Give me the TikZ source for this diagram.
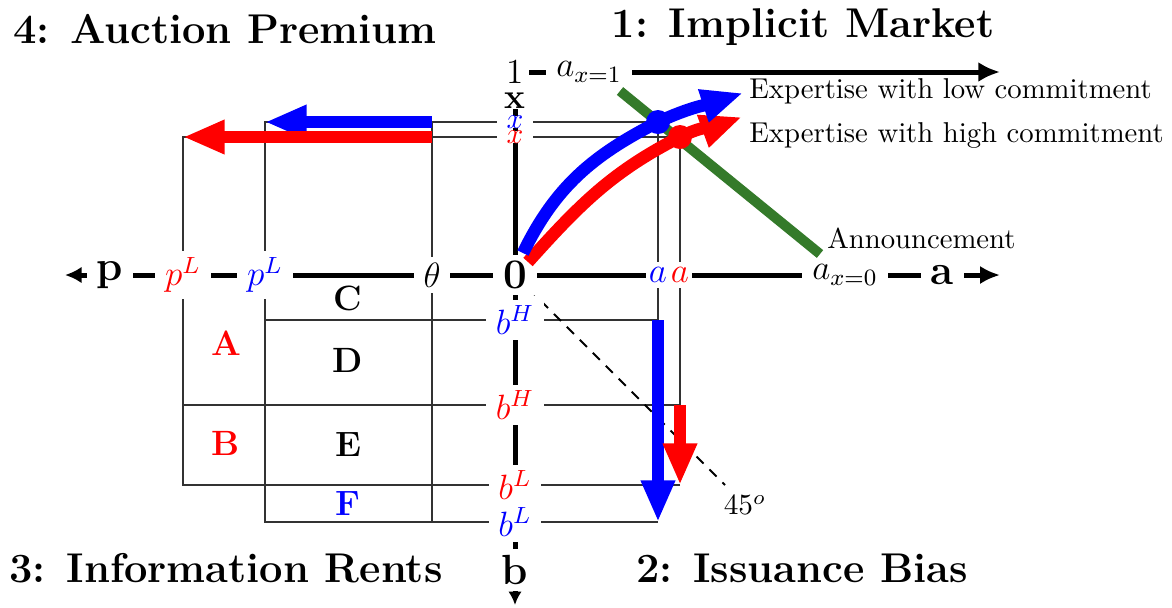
\documentclass[tikz,border=0pt]{standalone}
\definecolor{imRed}{RGB}{255, 0, 0}
\definecolor{imBlue}{RGB}{0, 0, 255}
\definecolor{imGreen}{RGB}{52, 122, 42}
\definecolor{imGray}{RGB}{50, 50, 50}
\usepackage{tikz}
\usetikzlibrary{arrows.meta, calc}
\usepackage{amsmath}
\tikzset{
  axisline/.style={line width=0.6mm, black},
  axislabel/.style={fill=white, inner xsep=3.4pt, inner ysep=2pt, text=#1, font=\fontsize{11.5}{13}\selectfont},
  axislabel/.default=black,
  axisname/.style={fill=white, inner xsep=3.4pt, inner ysep=2pt, font=\Large\bfseries},
  guide/.style={line width=0.2mm, imGray},
  bigarrow/.style={-{Triangle[length=5mm, width=3.8mm]}, line width=1.5mm, #1},
  bigarrow/.default=imBlue,
  quadtitle/.style={font=\fontsize{14.2}{16}\selectfont\bfseries},
  area/.style={font=\large\bfseries, text=#1},
  area/.default=black,
  note/.style={anchor=west, font=\fontsize{9.8}{12}\selectfont},
}

\begin{document}
\begin{tikzpicture}[x=1.2mm, y=1.2mm]
  \useasboundingbox (-51.5,-33.2) rectangle (65.7,27.5);

  % points of the two regimes
  \coordinate (O) at (0,0);
  \coordinate (bdot) at (14.3,15.3);
  \coordinate (rdot) at (16.5,13.8);
  \coordinate (pb) at (-25,0);
  \coordinate (pr) at (-33.2,0);
  \coordinate (th) at (-8.3,0);
  \coordinate (bHb) at (0,-4.5);
  \coordinate (bHr) at (0,-13);
  \coordinate (bLr) at (0,-21);
  \coordinate (bLb) at (0,-24.7);

  % guide lines
  \draw[guide] (bdot|-bLb) -- (pb|-bLb) -- (pb|-bdot) -- (bdot) -- (bdot|-bHb) -- (pb|-bHb);
  \draw[guide] (rdot|-bLr) -- (pr|-bLr) -- (pr|-rdot) -- (rdot) -- (rdot|-bHr) -- (pr|-bHr);
  \draw[guide] (th|-bdot) -- (th|-bLb);
  \draw[dashed, line width=0.22mm, dash pattern=on 1.2mm off 1mm] (O) -- (21,-21);

  % axes
  \coordinate (pend) at (-45,0);
  \coordinate (aend) at (48.5,0);
  \coordinate (xend) at (0,17.5);
  \coordinate (bend) at (0,-33);
  \coordinate (one) at (0,20.3);
  \coordinate (oneend) at (48.5,20.3);
  \draw[axisline, {Latex[length=2mm, width=2mm]}-{Latex[length=2.4mm, width=2.2mm]}] (pend) -- (aend);
  \draw[axisline, -{Latex[length=1.6mm, width=1.6mm]}] (xend) -- (bend);
  \draw[axisline, -{Latex[length=2.6mm, width=2.4mm]}] (one) -- (oneend);

  % labels on the axes
  \node[axisname] (nP) at (-40.5,0) {p};
  \node[axislabel=imRed] (nPLr) at (pr) {$p^L$};
  \node[axislabel=imBlue] (nPLb) at (pb) {$p^L$};
  \node[axislabel] (nTh) at (th) {$\theta$};
  \node[axisname] (nO) at (O) {0};
  \node[axislabel=imBlue, inner xsep=1pt] (nAb) at (bdot|-O) {$a$};
  \node[axislabel=imRed, inner xsep=1pt] (nAr) at (rdot|-O) {$a$};
  \node[axislabel] (nAx0) at (33,0) {$a_{x=0}$};
  \node[axisname] (nA) at (42.7,0) {a};
  \node[axislabel=imRed, font=\normalsize, inner ysep=0pt] (nXr) at (O|-rdot) {$x$};
  \node[axislabel=imBlue, font=\normalsize, inner ysep=0pt] (nXb) at (O|-bdot) {$x$};
  \node[axisname, font=\large\bfseries, inner ysep=0pt] (nX) at (0,17.4) {x};
  \node[axislabel=imBlue] (nBHb) at (bHb) {$b^H$};
  \node[axislabel=imRed] (nBHr) at (bHr) {$b^H$};
  \node[axislabel=imRed] (nBLr) at (bLr) {$b^L$};
  \node[axislabel=imBlue] (nBLb) at (bLb) {$b^L$};
  \node[axisname] (nB) at (0,-29.5) {b};
  \node[axislabel, font=\large, inner xsep=2pt, inner ysep=0pt] (nOne) at (one) {1};
  \node[axislabel] (nAx1) at (7.4,20.3) {$a_{x=1}$};

  % announcement line
  \coordinate (g1) at (10.5,18.4);
  \coordinate (g2) at (30.5,2.1);
  \draw[imGreen, line width=1.2mm] (g1) -- (g2);
  \node[note] (ann) at (30.2,3.7) {Announcement};

  % premium and bias arrows
  \draw[bigarrow=imBlue] (th|-bdot) -- (pb|-bdot);
  \draw[bigarrow=imRed] (th|-rdot) -- (pr|-rdot);
  \draw[bigarrow=imBlue] (bdot|-bHb) -- (bdot|-bLb);
  \draw[bigarrow=imRed] (rdot|-bHr) -- (rdot|-bLr);

  % expertise curves
  \coordinate (bstart) at (0.8,2.2);
  \coordinate (btip) at (22.8,18.2);
  \coordinate (rstart) at (1.3,1.3);
  \coordinate (rtip) at (22.7,15.8);
  \draw[bigarrow=imRed] (rstart) to[out=48, in=207] (rdot) to[out=27, in=200] (rtip);
  \draw[bigarrow=imBlue] (bstart) to[out=64, in=207] (bdot) to[out=25, in=198] (btip);
  \fill[imBlue] (bdot) circle (1.2);
  \fill[imRed] (rdot) circle (1.2);
  \node[note] (low) at (22.4,18.4) {Expertise with low commitment};
  \node[note] (high) at (22.4,14) {Expertise with high commitment};

  \node (deg) at (23,-23) {$45^o$};

  % areas
  \node[area] (C) at (-16.7,-2.3) {C};
  \node[area=imRed] (A) at (-28.9,-6.8) {A};
  \node[area] (D) at (-16.7,-8.5) {D};
  \node[area=imRed] (B) at (-28.9,-16.8) {B};
  \node[area] (E) at (-16.7,-17) {E};
  \node[area=imBlue] (F) at (-16.7,-22.9) {F};

  % quadrant titles
  \node[quadtitle] (t4) at (-29,24.6) {4: Auction Premium};
  \node[quadtitle] (t1) at (28.8,24.8) {1: Implicit Market};
  \node[quadtitle] (t3) at (-28.9,-29.3) {3: Information Rents};
  \node[quadtitle] (t2) at (28.7,-29.3) {2: Issuance Bias};
\end{tikzpicture}
\end{document}
